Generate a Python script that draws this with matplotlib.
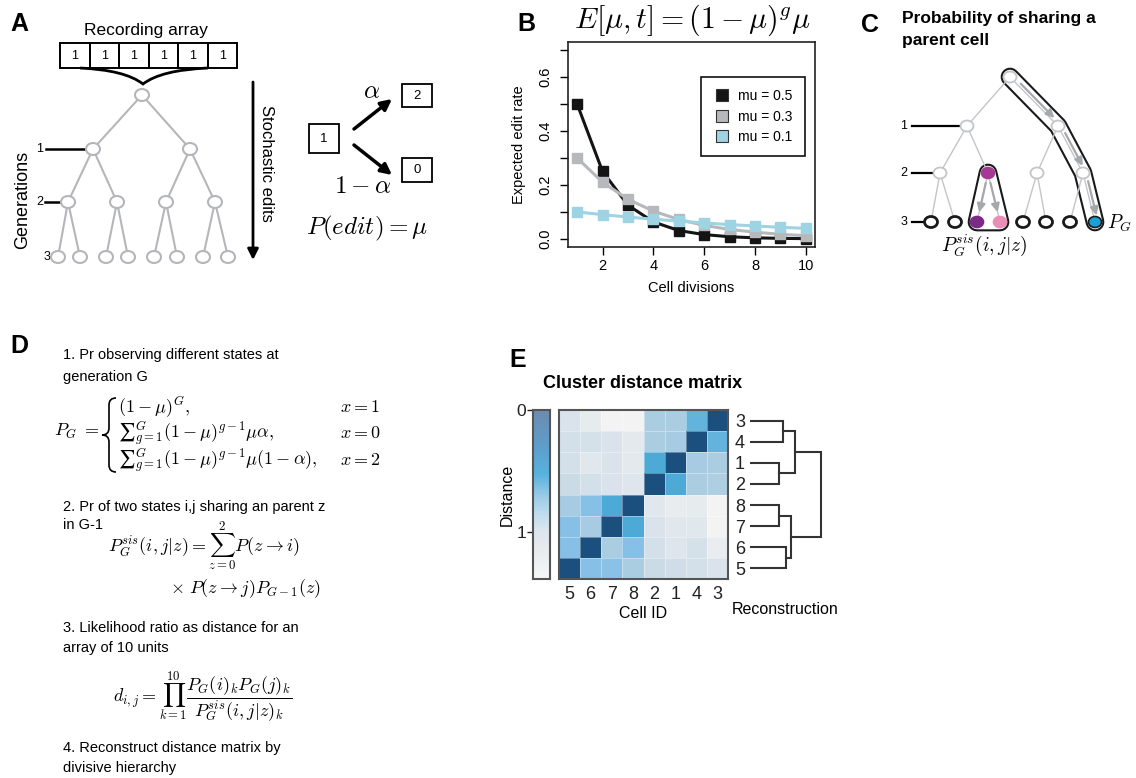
"""
Recreation of the lineage-recording overview figure (panels A-E).
Diagram panels are drawn on one full-figure overlay in pixel coordinates;
the edit-rate plot (B) and the distance matrix (E) use their own axes.
"""
import numpy as np
import matplotlib
matplotlib.use("Agg")
import matplotlib.pyplot as plt
from matplotlib.patches import Ellipse, Rectangle, Polygon, PathPatch
from matplotlib.path import Path
from matplotlib.lines import Line2D
from matplotlib.colors import LinearSegmentedColormap

plt.rcParams["font.family"] = ["Liberation Sans", "DejaVu Sans"]
plt.rcParams["mathtext.fontset"] = "cm"

W, H = 1136, 778

# ── Panel B data ──────────────────────────────────────────────────────────────
cell_divisions = [1, 2, 3, 4, 5, 6, 7, 8, 9, 10]
edit_mu05 = [0.50, 0.25, 0.125, 0.063, 0.031, 0.016, 0.008, 0.004, 0.002, 0.001]
edit_mu03 = [0.30, 0.21, 0.147, 0.103, 0.072, 0.050, 0.035, 0.025, 0.017, 0.012]
edit_mu01 = [0.10, 0.09, 0.081, 0.073, 0.066, 0.059, 0.053, 0.048, 0.043, 0.039]
mu_labels = ["mu = 0.5", "mu = 0.3", "mu = 0.1"]
mu_colors = ["#141414", "#b7b8bb", "#9dd3e3"]

# ── Panel E data ──────────────────────────────────────────────────────────────
col_ids = ["5", "6", "7", "8", "2", "1", "4", "3"]
row_ids = ["3", "4", "1", "2", "8", "7", "6", "5"]
dist_3 = [1.05, 1.15, 1.35, 1.35, 0.72, 0.72, 0.45, 0.00]
dist_4 = [1.00, 1.02, 1.05, 1.12, 0.72, 0.70, 0.00, 0.45]
dist_1 = [1.00, 1.10, 1.05, 1.12, 0.38, 0.00, 0.70, 0.72]
dist_2 = [0.95, 1.00, 1.05, 1.08, 0.00, 0.38, 0.72, 0.74]
dist_8 = [0.70, 0.55, 0.38, 0.00, 1.10, 1.18, 1.15, 1.35]
dist_7 = [0.55, 0.70, 0.00, 0.38, 1.05, 1.10, 1.10, 1.35]
dist_6 = [0.55, 0.00, 0.72, 0.55, 1.00, 1.08, 1.02, 1.20]
dist_5 = [0.00, 0.55, 0.57, 0.72, 0.95, 0.98, 1.00, 1.05]
dist_max = 1.39
# merges: (child a, child b, height); children >= 8 are earlier merges
dendro_merges = [(0, 1, 0.41), (2, 3, 0.36), (4, 5, 0.36), (6, 7, 0.45),
                 (8, 9, 0.56), (10, 11, 0.51), (12, 13, 0.89)]

GREY_EDGE = "#b4b6b9"
ARROW_GREY = "#a6a8ab"


def px_axes(fig, x0, y0, x1, y1):
    return fig.add_axes([x0 / W, 1 - y1 / H, (x1 - x0) / W, (y1 - y0) / H])


def draw_tree(ax, levels, edge_col, lw):
    for lvl in range(len(levels) - 1):
        for i, (px, py) in enumerate(levels[lvl]):
            for cx, cy in levels[lvl + 1][2 * i:2 * i + 2]:
                ax.plot([px, cx], [py, cy], color=edge_col, lw=lw, zorder=3,
                        solid_capstyle="butt")


def node(ax, x, y, ec, fc="white", lw=1.5, w=13, h=11):
    ax.add_patch(Ellipse((x, y), w, h, fc=fc, ec=ec, lw=lw, zorder=6))


def curly_brace(ax, x, y0, y1, w, lw=1.2):
    mid, xm = (y0 + y1) / 2, x + w / 2
    verts = [(x + w, y0), (xm, y0), (xm, y0 + w / 2), (xm, mid - w / 2),
             (xm, mid), (x, mid), (xm, mid), (xm, mid + w / 2),
             (xm, y1 - w / 2), (xm, y1), (x + w, y1)]
    codes = [Path.MOVETO, Path.CURVE3, Path.CURVE3, Path.LINETO,
             Path.CURVE3, Path.CURVE3, Path.CURVE3, Path.CURVE3,
             Path.LINETO, Path.CURVE3, Path.CURVE3]
    ax.add_patch(PathPatch(Path(verts, codes), fc="none", ec="black", lw=lw))


def arrow(ax, p, q, color, lw, ms, z=7):
    ax.annotate("", xy=q, xytext=p, zorder=z,
                arrowprops=dict(arrowstyle="-|>", color=color, lw=lw,
                                mutation_scale=ms, shrinkA=0, shrinkB=0))


fig = plt.figure(figsize=(W / 100, H / 100), dpi=100)
ov = fig.add_axes([0, 0, 1, 1])
ov.set_xlim(0, W)
ov.set_ylim(H, 0)
ov.axis("off")

# panel letters
for letter, (lx, ly) in {"A": (19, 24), "B": (526, 24), "C": (870, 25),
                         "D": (19, 346), "E": (518, 360)}.items():
    ov.text(lx, ly, letter, fontsize=18, fontweight="bold", ha="center", va="center")

# ── Panel A ───────────────────────────────────────────────────────────────────
ov.text(146, 30, "Recording array", fontsize=12.5, ha="center", va="center")
for i in range(6):
    ov.add_patch(Rectangle((60 + i * 29.5, 43), 29.5, 25, fill=False, ec="black", lw=1.4))
    ov.text(60 + i * 29.5 + 14.75, 55.5, "1", fontsize=9, ha="center", va="center")
ov.add_patch(PathPatch(Path([(80, 68), (125, 70), (143, 84), (161, 70), (208, 68)],
                            [Path.MOVETO, Path.CURVE3, Path.CURVE3, Path.CURVE3, Path.CURVE3]),
                       fc="none", ec="black", lw=2))

a_levels = [[(142, 95)],
            [(93, 149), (190, 149)],
            [(68, 202), (117, 202), (166, 202), (215, 202)],
            [(58, 257), (80, 257), (106, 257), (128, 257),
             (154, 257), (177, 257), (203, 257), (228, 257)]]
draw_tree(ov, a_levels, GREY_EDGE, 1.5)
for lvl in a_levels:
    for x, y in lvl:
        node(ov, x, y, GREY_EDGE, w=14, h=12)

ov.text(40, 149, "1", fontsize=9, ha="center", va="center")
ov.plot([46, 86], [149, 149], color="black", lw=1.8)
ov.text(40, 202, "2", fontsize=9, ha="center", va="center")
ov.plot([45, 61], [202, 202], color="black", lw=1.8)
ov.text(47, 257, "3", fontsize=9, ha="center", va="center")
ov.plot([51, 54], [257, 257], color="black", lw=1.5)
ov.text(23, 200, "Generations", fontsize=13, rotation=90, ha="center", va="center")

arrow(ov, (253, 82), (253, 260), "black", 2, 16)
ov.text(266, 163, "Stochastic edits", fontsize=12, rotation=-90, ha="center", va="center")

for (bx, by, bw, bh, lab) in [(309, 124, 30, 29, "1"), (402, 84, 30, 23, "2"),
                              (402, 158, 30, 24, "0")]:
    ov.add_patch(Rectangle((bx, by), bw, bh, fill=False, ec="black", lw=1.3))
    ov.text(bx + bw / 2, by + bh / 2, lab, fontsize=9.5, ha="center", va="center")
arrow(ov, (354, 129), (392, 99), "black", 2.5, 16)
arrow(ov, (354, 145), (392, 175), "black", 2.5, 16)
ov.text(372, 91, r"$\alpha$", fontsize=18, ha="center", va="center")
ov.text(363, 186, r"$1-\alpha$", fontsize=18, ha="center", va="center")
ov.text(367, 228, r"$P(edit) = \mu$", fontsize=18, ha="center", va="center")

# ── Panel B ───────────────────────────────────────────────────────────────────
ov.text(692, 20, r"$E[\mu,t] = (1-\mu)^g\mu$", fontsize=21.5, ha="center", va="center")
axb = px_axes(fig, 568, 42, 815, 247)
for vals, col in zip([edit_mu05, edit_mu03, edit_mu01], mu_colors):
    axb.plot(cell_divisions, vals, color=col, lw=2.2, marker="s", ms=6.5,
             mec=col, solid_joinstyle="round")
axb.set_xlim(0.64, 10.36)
axb.set_ylim(-0.03, 0.73)
axb.set_xticks([2, 4, 6, 8, 10])
axb.set_yticks(np.arange(0, 0.71, 0.1))
axb.set_yticklabels(["0.0", "", "0.2", "", "0.4", "", "0.6", ""], rotation=90, va="center")
axb.tick_params(direction="out", length=6, width=1.0, labelsize=10.5, pad=3)
axb.tick_params(axis="y", pad=5)
for sp in axb.spines.values():
    sp.set_linewidth(1.2)
    sp.set_color("#222222")
axb.set_xlabel("Cell divisions", fontsize=10.5)
axb.xaxis.set_label_coords(0.5, -0.165)
axb.set_ylabel("Expected edit rate", fontsize=10.5)
axb.yaxis.set_label_coords(-0.17, 0.5)
handles = [Line2D([], [], ls="none", marker="s", ms=9, mfc=c, mec="#333333", mew=0.8)
           for c in mu_colors]
leg = axb.legend(handles, mu_labels, loc="upper right", bbox_to_anchor=(0.96, 0.83),
                 fontsize=10, frameon=True, fancybox=False, framealpha=1,
                 borderpad=0.9, labelspacing=0.45, handletextpad=0.6, handlelength=1.2,
                 borderaxespad=0)
leg.get_frame().set_edgecolor("#111111")
leg.get_frame().set_linewidth(1.2)

# ── Panel C ───────────────────────────────────────────────────────────────────
ov.text(902, 18, "Probability of sharing a", fontsize=12.5, fontweight="bold", va="center")
ov.text(902, 40, "parent cell", fontsize=12.5, fontweight="bold", va="center")

c_levels = [[(1010, 77)],
            [(967, 126), (1058, 126)],
            [(940, 173), (988, 173), (1037, 173), (1083, 173)],
            [(931, 222), (955, 222), (977, 222), (1000, 222),
             (1023, 222), (1046, 222), (1070, 222), (1095, 222)]]
C_EDGE = "#c3c5c8"

# capsule along the right-most lineage and rounded triangle round the sisters
cap = [c_levels[0][0], c_levels[1][1], c_levels[2][3], c_levels[3][7]]
cx, cy = zip(*cap)
ov.plot(cx, cy, color="#1a1a1a", lw=13.5, solid_capstyle="round",
        solid_joinstyle="round", zorder=1)
ov.plot(cx, cy, color="white", lw=10.5, solid_capstyle="round",
        solid_joinstyle="round", zorder=2)
tri = [c_levels[2][1], c_levels[3][2], c_levels[3][3]]
ov.add_patch(Polygon(tri, closed=True, fc="white", ec="#1a1a1a", lw=13.5,
                     joinstyle="round", zorder=1))
ov.add_patch(Polygon(tri, closed=True, fc="white", ec="white", lw=10.5,
                     joinstyle="round", zorder=2))

draw_tree(ov, c_levels, C_EDGE, 1.0)

for p, q in zip(cap[:-1], cap[1:]):
    p, q = np.array(p, float), np.array(q, float)
    d = q - p
    n = np.array([-d[1], d[0]]) / np.hypot(*d)
    s = p + 0.18 * d - 3.0 * n
    e = p + 0.88 * d - 3.0 * n
    arrow(ov, tuple(s), tuple(e), ARROW_GREY, 1.6, 12)
for ch in tri[1:]:
    p, q = np.array(tri[0], float), np.array(ch, float)
    d = q - p
    arrow(ov, tuple(p + 0.2 * d), tuple(p + 0.8 * d), ARROW_GREY, 1.6, 12)

for lvl in c_levels[:3]:
    for x, y in lvl:
        node(ov, x, y, C_EDGE, lw=1.3)
node(ov, *c_levels[2][1], "#a43a93", fc="#a43a93", lw=1)
gen3_fill = {2: "#7b2b87", 3: "#ea8db7", 7: "#1a9fd8"}
for i, (x, y) in enumerate(c_levels[3]):
    if i in gen3_fill:
        node(ov, x, y, "#1a1a1a" if i == 7 else gen3_fill[i], fc=gen3_fill[i], lw=1.2)
    else:
        node(ov, x, y, "#1a1a1a", lw=2)

for lab, ly, x1 in [("1", 126, 960), ("2", 173, 933), ("3", 222, 924)]:
    ov.text(904, ly, lab, fontsize=9, ha="center", va="center")
    ov.plot([912, x1], [ly, ly], color="black", lw=1.6)
ov.text(1107, 223, r"$P_G$", fontsize=14, ha="left", va="center")
ov.text(984, 245, r"$P_G^{sis}(i,j|z)$", fontsize=14, ha="center", va="center")

# ── Panel D ───────────────────────────────────────────────────────────────────
d_lines = [(355, "1. Pr observing different states at"), (377, "generation G"),
           (507, "2. Pr of two states i,j sharing an parent z"), (525, "in G-1"),
           (628, "3. Likelihood ratio as distance for an"), (648, "array of 10 units"),
           (748, "4. Reconstruct distance matrix by"), (768, "divisive hierarchy")]
for ly, txt in d_lines:
    ov.text(63, ly, txt, fontsize=10.5, va="center")

MF = 13
ov.text(99, 431, r"$P_G\;=$", fontsize=MF, ha="right", va="center")
curly_brace(ov, 102, 398, 472, 14)
ov.text(118, 407, r"$(1-\mu)^G,$", fontsize=MF, va="center")
ov.text(118, 433, r"$∑_{g=1}^{G}(1-\mu)^{g-1}\mu\alpha,$", fontsize=MF, va="center")
ov.text(118, 460, r"$∑_{g=1}^{G}(1-\mu)^{g-1}\mu(1-\alpha),$", fontsize=MF, va="center")
for ly, xv in [(407, "1"), (433, "0"), (460, "2")]:
    ov.text(340, ly, r"$x = %s$" % xv, fontsize=MF, va="center")

ov.text(108, 552, r"$P_G^{sis}(i,j|z) = \sum_{z=0}^{2}P(z\rightarrow i)$",
        fontsize=MF, va="baseline")
ov.text(170, 593, r"$\times\ P(z\rightarrow j)P_{G-1}(z)$", fontsize=MF, va="baseline")
ov.text(113, 697, r"$d_{i,j} = \prod_{k=1}^{10}\dfrac{P_G(i)_k P_G(j)_k}{P_G^{sis}(i,j|z)_k}$",
        fontsize=MF, va="center")

# ── Panel E ───────────────────────────────────────────────────────────────────
ov.text(543, 383, "Cluster distance matrix", fontsize=13, fontweight="bold", va="center")
dist = np.array([dist_3, dist_4, dist_1, dist_2, dist_8, dist_7, dist_6, dist_5])

heat_stops = [(0.00, "#1b4f7e"), (0.20, "#2f80b6"), (0.38, "#4eaad6"), (0.55, "#86c0e6"),
              (0.72, "#abcde1"), (0.95, "#cbdbe6"), (1.05, "#dae3eb"), (1.15, "#e6ebee"),
              (1.39, "#f5f5f5")]
heat_cmap = LinearSegmentedColormap.from_list(
    "dist", [(v / dist_max, c) for v, c in heat_stops])
bar_cmap = LinearSegmentedColormap.from_list(
    "distbar", [(0.0, "#6c8cb0"), (0.22, "#5e9fcd"), (0.38, "#58b3df"), (0.52, "#a0cde8"),
                (0.62, "#c0ddee"), (0.72, "#dde6ee"), (0.85, "#eaedef"), (1.0, "#f7f7f7")])

axh = px_axes(fig, 559, 410, 728, 579)
axh.pcolormesh(np.arange(9), np.arange(9), dist, cmap=heat_cmap, vmin=0, vmax=dist_max,
               edgecolors=(1, 1, 1, 0.35), linewidth=0.5)
axh.set_xlim(0, 8)
axh.set_ylim(8, 0)
axh.set_xticks(np.arange(8) + 0.5, col_ids)
axh.set_yticks(np.arange(8) + 0.5, row_ids)
axh.yaxis.tick_right()
axh.tick_params(length=0, labelsize=13, colors="#222222")
axh.tick_params(axis="x", pad=5)
axh.tick_params(axis="y", pad=5)
for sp in axh.spines.values():
    sp.set_linewidth(1.5)
    sp.set_color("#555555")
axh.set_xlabel("Cell ID", fontsize=11.5, labelpad=2)
ov.text(785, 610, "Reconstruction", fontsize=11.5, ha="center", va="center")

axc = px_axes(fig, 533, 410, 550, 579)
axc.imshow(np.linspace(0, dist_max, 200)[:, None], aspect="auto", cmap=bar_cmap,
           extent=[0, 1, dist_max, 0], interpolation="nearest")
axc.set_xticks([])
axc.set_yticks([0, 1], ["0", "1"])
axc.tick_params(axis="y", length=4, width=1.0, labelsize=12.5, pad=1, colors="#222222")
for sp in axc.spines.values():
    sp.set_linewidth(1.5)
    sp.set_color("#555555")
axc.set_ylabel("Distance", fontsize=11.5, labelpad=1)

axd = px_axes(fig, 750, 410, 830, 579)
pos = {i: (0.0, i + 0.5) for i in range(len(row_ids))}
for k, (a, b, h) in enumerate(dendro_merges):
    xa, ya = pos[a]
    xb, yb = pos[b]
    axd.plot([xa, h, h, xb], [ya, ya, yb, yb], color="#333333", lw=1.5,
             solid_joinstyle="miter")
    pos[len(row_ids) + k] = (h, (ya + yb) / 2)
axd.set_xlim(0, 1)
axd.set_ylim(8, 0)
axd.axis("off")

fig.savefig("out.png", dpi=100)
